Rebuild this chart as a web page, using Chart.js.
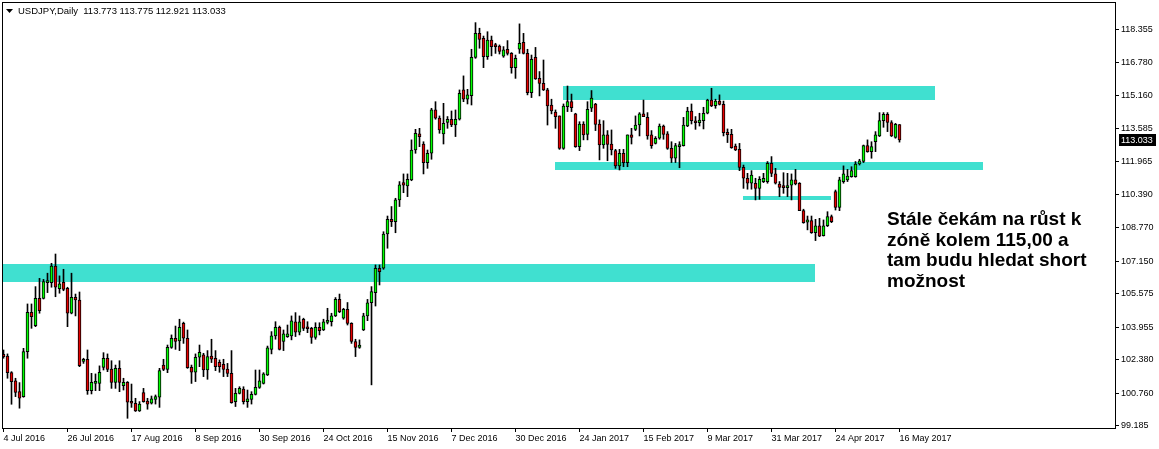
<!DOCTYPE html>
<html><head><meta charset="utf-8">
<script src="https://cdn.jsdelivr.net/npm/chart.js@4.4.1/dist/chart.umd.min.js"></script>
<style>html,body{margin:0;padding:0;background:#fff;overflow:hidden}canvas{display:block}</style>
</head><body>
<canvas id="c" width="1159" height="449"></canvas>
<script>
const symbol = "USDJPY,Daily";

const opens = [102.64,102.56,101.75,101.35,100.83,100.59,102.77,104.68,104.03,105.35,105.35,106.11,106.11,106.92,105.82,106.13,105.84,104.63,105.40,105.27,
102.29,102.40,100.88,101.23,101.23,102.01,102.45,101.93,101.28,101.96,101.12,101.28,100.32,100.27,99.90,100.79,100.38,100.27,100.46,100.56,
102.12,101.91,102.98,103.42,103.29,104.14,103.42,102.01,101.77,102.50,102.61,101.88,102.56,102.45,102.25,102.16,101.93,101.72,100.35,100.75,
100.96,100.35,100.46,100.70,101.04,101.23,101.64,102.88,103.53,103.95,103.26,103.50,103.53,104.22,103.71,104.34,103.93,103.90,103.46,103.95,
103.82,104.19,104.22,104.50,105.31,104.39,104.82,104.14,103.26,102.98,103.82,104.50,105.14,105.63,106.81,106.81,108.47,109.18,109.07,110.12,
110.96,110.80,111.09,112.54,113.32,112.83,111.93,112.38,114.48,114.08,113.32,113.87,114.03,113.75,114.03,115.45,115.00,115.17,117.03,118.19,
117.95,117.06,117.87,117.58,117.58,117.09,117.42,117.22,116.53,117.43,117.76,117.22,115.32,117.03,116.01,115.77,115.45,114.71,114.38,114.19,
112.62,114.64,114.88,114.29,112.70,113.80,113.30,114.56,114.77,113.80,112.78,113.27,112.83,112.51,111.77,112.38,111.93,113.27,113.54,113.75,
114.29,114.12,113.27,112.86,113.11,113.70,113.32,112.62,112.14,112.70,112.75,113.70,114.43,113.91,113.86,113.96,114.32,114.96,114.69,114.91,
114.75,113.40,113.30,112.73,112.57,111.70,111.17,110.93,110.93,110.68,111.01,111.01,111.89,111.38,110.89,110.76,110.72,110.83,111.09,110.93,
109.60,109.04,109.12,108.53,108.87,108.39,108.87,109.31,110.52,109.76,111.01,111.09,111.25,111.25,111.86,111.98,112.75,112.46,112.94,113.22,
113.96,114.27,113.87,113.15,113.773];

const highs = [102.85,102.66,101.80,101.48,101.27,102.93,105.08,105.08,105.92,106.32,106.27,106.57,107.05,107.50,106.44,106.76,105.89,106.57,105.56,105.66,
102.45,102.85,101.72,101.69,102.08,102.72,102.66,102.33,102.12,102.33,101.48,101.32,101.20,100.51,100.35,100.99,100.51,100.62,100.67,101.96,
102.40,103.09,103.58,104.01,104.34,104.20,103.82,102.12,102.66,103.09,102.69,102.82,103.37,102.82,102.37,102.40,102.20,102.82,100.99,101.07,
101.07,100.91,100.83,101.88,101.88,101.75,103.04,103.74,104.22,104.01,103.82,104.06,104.50,104.66,104.50,104.39,104.22,103.95,104.17,104.17,
104.34,104.87,104.63,105.39,105.56,104.87,105.15,104.17,103.37,103.34,104.63,105.30,105.92,106.97,106.97,108.58,109.34,109.80,110.20,111.01,
111.38,111.38,113.03,113.54,113.59,112.94,112.54,114.56,114.88,114.19,114.80,114.16,114.43,114.48,115.45,116.13,115.48,117.42,118.71,118.44,
118.06,118.27,118.06,117.71,117.63,117.55,117.84,117.26,117.14,118.65,118.19,117.42,117.14,117.51,116.34,116.90,115.53,115.00,114.48,114.19,
114.77,115.64,115.25,114.32,113.91,113.91,114.88,115.42,114.80,114.00,113.96,113.48,113.51,112.57,112.57,112.57,113.27,113.59,114.19,114.35,
114.96,114.35,113.48,113.19,113.80,113.75,113.43,112.94,112.86,112.94,114.12,114.61,114.77,114.16,114.32,114.61,115.00,115.53,115.00,115.21,
114.91,113.56,113.54,112.83,112.86,111.81,111.41,111.54,111.17,111.25,111.41,111.98,112.22,111.65,111.01,111.44,111.41,111.38,111.60,110.96,
109.67,109.34,109.34,109.18,109.23,109.15,109.55,109.39,110.60,111.22,111.77,111.60,111.73,111.98,112.09,112.78,113.03,112.94,113.43,114.35,
114.35,114.35,113.96,113.83,113.775];

const lows = [102.45,101.48,100.22,100.59,100.03,100.56,102.45,103.90,103.98,104.63,105.32,105.63,105.89,105.43,105.60,105.72,103.98,104.60,104.50,102.04,
102.20,100.70,100.72,100.88,100.88,101.88,101.80,100.99,100.99,100.83,100.91,99.54,100.07,99.87,99.87,100.32,99.98,100.23,100.23,100.07,
101.85,101.75,102.93,102.88,102.82,103.17,101.96,101.23,101.32,102.04,101.56,101.43,102.24,101.85,101.77,101.56,101.56,100.27,100.11,100.72,
100.23,100.07,100.23,100.67,100.99,101.20,101.61,102.66,103.37,102.85,102.82,103.46,103.34,103.50,103.58,103.79,103.69,103.17,103.37,103.58,
103.79,104.11,104.01,104.47,104.66,104.34,104.06,103.17,102.53,102.93,103.79,104.27,101.16,104.98,106.00,106.76,107.78,108.83,108.53,109.80,
110.47,110.28,111.05,112.38,112.70,111.38,111.65,112.09,114.03,113.35,112.83,113.59,113.67,113.19,113.99,114.88,114.77,114.72,116.98,117.47,
116.53,116.93,117.10,117.22,117.19,117.03,117.14,116.26,116.01,117.22,117.19,115.21,115.08,115.96,115.16,115.42,113.75,114.29,113.59,112.57,
112.57,114.40,114.40,112.67,112.51,113.03,113.03,114.40,113.48,112.06,112.62,112.02,112.30,111.65,111.57,111.73,111.73,112.83,113.48,113.22,
114.16,113.06,112.62,112.83,113.06,113.06,112.57,111.93,111.93,111.68,112.73,113.67,113.80,113.54,113.70,113.56,114.29,114.64,114.56,114.72,
113.22,112.90,112.62,112.51,111.54,110.68,110.64,110.64,110.12,110.15,110.96,110.93,111.25,110.89,110.28,110.44,110.28,110.12,110.85,109.60,
108.99,108.67,108.50,108.15,108.34,108.37,108.83,109.02,109.63,109.60,110.93,111.01,111.22,111.22,111.81,111.93,112.43,112.14,112.46,113.19,
113.64,113.43,113.19,113.11,112.921];

const closes = [102.53,101.75,101.32,100.79,100.51,102.77,104.68,104.47,105.35,104.76,106.16,106.16,106.92,105.89,106.05,105.79,104.63,105.40,105.27,102.09,
102.40,100.88,101.28,101.27,101.77,102.45,101.91,101.28,101.96,101.28,101.28,100.32,100.27,99.90,100.23,100.35,100.23,100.48,100.59,101.85,
101.91,102.98,103.42,103.26,103.95,103.42,101.99,101.77,102.50,102.74,101.88,102.53,102.41,102.04,102.04,101.91,101.72,100.30,100.75,100.99,
100.35,100.48,100.70,101.04,101.35,101.69,102.96,103.53,103.95,102.88,103.63,103.63,104.26,103.71,104.22,103.90,103.88,103.46,103.95,103.79,
104.22,104.26,104.50,105.31,104.71,104.82,104.14,103.26,102.98,103.09,104.50,105.14,105.68,106.81,106.65,108.47,109.18,109.07,110.12,110.85,
110.83,111.12,112.54,113.35,113.19,111.93,112.38,114.48,114.08,113.51,113.83,114.03,113.75,114.03,115.29,115.00,115.21,117.03,118.19,117.90,
117.06,117.87,117.55,117.55,117.31,117.39,117.22,116.53,116.98,117.71,117.22,115.32,116.93,115.98,115.77,115.45,114.67,114.43,114.16,112.62,
114.67,114.88,114.59,112.70,113.80,113.27,114.51,115.05,113.78,112.78,113.27,112.81,112.54,111.77,112.38,111.93,113.27,113.15,113.75,114.29,
114.16,113.22,112.75,113.11,113.70,113.30,112.62,112.14,112.75,112.78,113.75,114.43,113.96,113.86,113.99,114.32,114.96,114.67,114.91,114.75,
113.38,113.28,112.65,112.54,111.70,111.17,110.93,111.33,110.68,111.12,111.17,111.89,111.41,110.93,110.73,110.72,110.76,111.09,110.89,109.60,
109.02,109.15,108.53,108.87,108.37,108.87,109.31,109.07,109.76,111.09,111.38,111.28,111.54,111.86,112.01,112.75,112.46,112.70,113.27,113.96,
114.27,113.87,113.22,113.78,113.033];

const tickBars = [0,16,32,48,64,80,96,112,128,144,160,176,192,208,224];
const tickLabels = ["4 Jul 2016","26 Jul 2016","17 Aug 2016","8 Sep 2016","30 Sep 2016","24 Oct 2016","15 Nov 2016","7 Dec 2016",
  "30 Dec 2016","24 Jan 2017","15 Feb 2017","9 Mar 2017","31 Mar 2017","24 Apr 2017","16 May 2017"];
const priceTicks = [118.355,116.780,115.160,113.585,111.965,110.390,108.770,107.150,105.575,103.955,102.380,100.760,99.185];

// support / resistance zones (bar index range, price range)
const zoneStart  = [-0.375, 139.9, 137.9, 184.9];
const zoneEnd    = [202.9, 232.9, 244.9, 206.9];
const zoneTop    = [107.02, 115.64, 111.96, 110.31];
const zoneBottom = [106.15, 114.96, 111.57, 110.12];

const noteLines = ["Stále čekám na růst k","zóně kolem 115,00 a","tam budu hledat short","možnost"];

const BULL = '#00ff00', BEAR = '#e60000', ZONE = '#40e0d0';
const FONT = "'Liberation Sans', Arial, sans-serif";

const wickData = lows.map((l, i) => ({x: i, y: [l, highs[i]]}));
const bodyData = opens.map((o, i) => ({x: i, y: [Math.min(o, closes[i]), Math.max(o, closes[i])]}));
const bodyColors = opens.map((o, i) => closes[i] >= o ? BULL : BEAR);

const overlay = {
  id: 'overlay',
  beforeDatasetsDraw(chart) {
    const {ctx, chartArea: a, scales: {x, y}} = chart;
    ctx.save();
    ctx.fillStyle = ZONE;
    zoneStart.forEach((s, k) => {
      const x0 = Math.max(x.getPixelForValue(s), a.left);
      const x1 = x.getPixelForValue(zoneEnd[k]);
      const y0 = y.getPixelForValue(zoneTop[k]);
      const y1 = y.getPixelForValue(zoneBottom[k]);
      ctx.fillRect(Math.round(x0), Math.round(y0), Math.round(x1 - x0), Math.round(y1 - y0));
    });
    ctx.restore();
  },
  afterDraw(chart) {
    const {ctx, chartArea: a, scales: {y}} = chart;
    ctx.save();
    ctx.strokeStyle = '#000';
    ctx.lineWidth = 1;
    ctx.strokeRect(a.left + 0.5, a.top + 0.5, a.right - a.left, a.bottom - a.top);
    const n = opens.length - 1;
    ctx.fillStyle = '#000';
    ctx.beginPath();
    ctx.moveTo(6, 9); ctx.lineTo(13, 9); ctx.lineTo(9.5, 13); ctx.closePath(); ctx.fill();
    ctx.font = "9.5px " + FONT;
    ctx.textBaseline = 'middle';
    ctx.textAlign = 'left';
    ctx.fillText(symbol + "  " + [opens[n], highs[n], lows[n], closes[n]].map(v => v.toFixed(3)).join(' '), 18, 11.5);
    const py = Math.round(y.getPixelForValue(closes[n]));
    ctx.fillStyle = '#000';
    ctx.fillRect(a.right + 4, py - 6, 37, 12);
    ctx.fillStyle = '#fff';
    ctx.font = "9px " + FONT;
    ctx.fillText(closes[n].toFixed(3), a.right + 6, py + 0.5);
    ctx.fillStyle = '#000';
    ctx.font = "bold 19px " + FONT;
    noteLines.forEach((t, k) => ctx.fillText(t, 887, 220 + k * 20.6));
    ctx.restore();
  }
};

const zeroPad = s => { s.paddingTop = 0; s.paddingBottom = 0; s.paddingLeft = 0; s.paddingRight = 0; };

new Chart(document.getElementById('c'), {
  type: 'bar',
  data: {
    datasets: [
      {data: bodyData, backgroundColor: bodyColors, borderColor: '#000', borderWidth: 1, borderSkipped: false,
       barThickness: 3, minBarLength: 2, grouped: false, order: 0},
      {data: wickData, backgroundColor: '#000', borderWidth: 0, barThickness: 1, grouped: false, order: 1}
    ]
  },
  options: {
    responsive: false,
    animation: false,
    events: [],
    layout: {padding: {left: 2, top: 2, right: 0, bottom: 0}},
    plugins: {legend: {display: false}, tooltip: {enabled: false}},
    scales: {
      x: {
        type: 'linear', min: -0.375, max: 277.875, offset: false,
        afterBuildTicks: s => { s.ticks = tickBars.map(v => ({value: v})); },
        afterFit: s => { s.height = 21; zeroPad(s); },
        ticks: {autoSkip: false, maxRotation: 0, align: 'start', padding: 1, color: '#000',
          font: {family: FONT, size: 9},
          callback: v => tickLabels[tickBars.indexOf(v)] || ''},
        grid: {drawOnChartArea: false, drawTicks: true, tickLength: 4, color: '#000', offset: false},
        border: {display: false}
      },
      y: {
        position: 'right', min: 99.07, max: 119.71,
        afterBuildTicks: s => { s.ticks = priceTicks.map(v => ({value: v})); },
        afterFit: s => { s.width = 44; zeroPad(s); },
        ticks: {autoSkip: false, padding: 2, color: '#000', font: {family: FONT, size: 9},
          callback: v => v.toFixed(3)},
        grid: {drawOnChartArea: false, drawTicks: true, tickLength: 4, color: '#000'},
        border: {display: false}
      }
    }
  },
  plugins: [overlay]
});
</script>
</body></html>
